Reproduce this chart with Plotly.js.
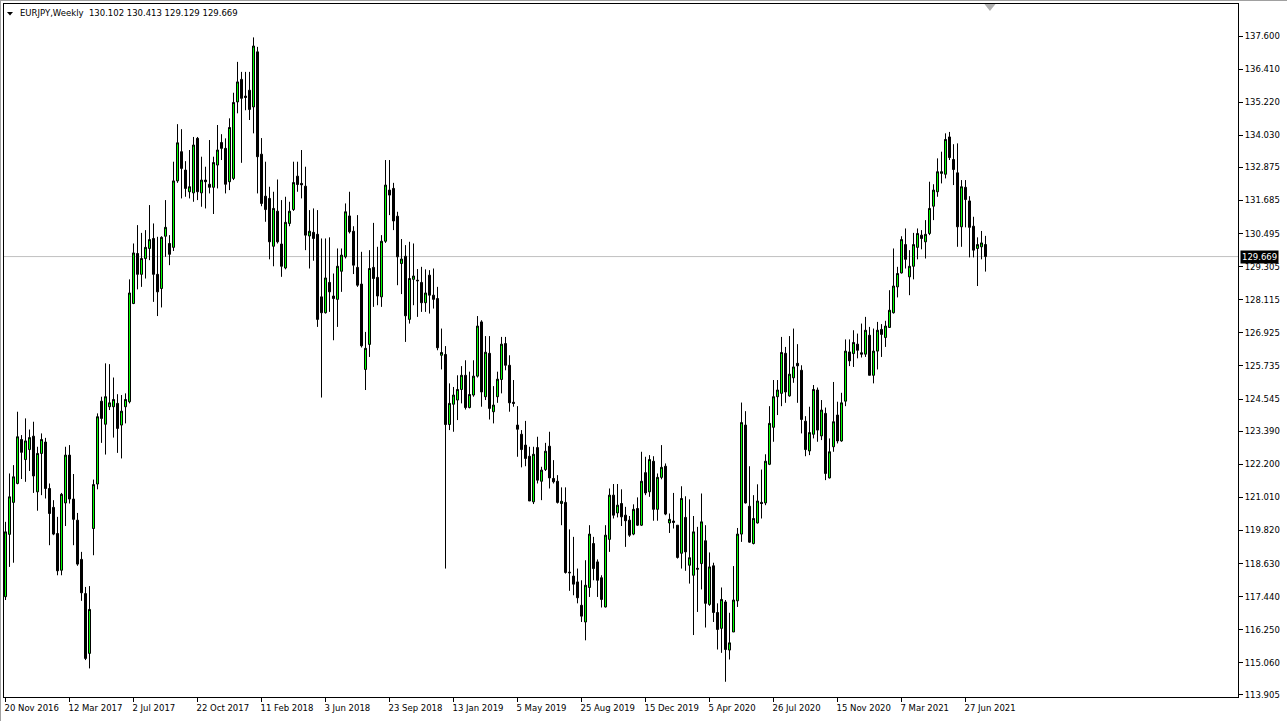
<!DOCTYPE html>
<html>
<head>
<meta charset="utf-8">
<script src="https://cdn.plot.ly/plotly-3.0.1.min.js"></script>
<style>
  html, body { margin: 0; padding: 0; background: #ffffff; }
  #chart { width: 1287px; height: 721px; }
</style>
</head>
<body>
<div id="chart"></div>
<script>
// EURJPY weekly, 20 Nov 2016 .. 1 Aug 2021
const open = [117.44,119.68,120.83,121.51,123.09,122.37,122.73,123.21,121.21,122.59,123.00,121.33,120.65,119.71,118.39,120.81,122.53,120.95,120.19,118.78,117.55,115.40,119.89,121.49,124.47,123.64,124.27,124.27,124.39,123.61,124.27,124.45,127.98,129.78,129.03,129.60,129.96,130.32,129.03,128.52,130.40,130.14,130.00,132.39,133.44,132.78,132.00,131.96,133.92,131.96,132.42,132.27,132.16,132.96,133.77,133.56,132.36,132.48,135.23,136.04,135.44,135.65,135.05,137.03,133.35,131.84,131.76,130.04,131.30,130.12,129.26,130.86,131.36,132.56,132.30,132.20,130.41,130.54,130.47,128.22,127.65,128.74,128.25,128.13,129.14,129.66,131.13,130.58,129.28,128.68,125.61,126.51,129.28,128.92,128.22,130.22,132.06,132.12,131.12,129.42,129.68,127.41,128.85,128.82,128.74,128.01,129.00,128.28,128.16,126.12,126.15,123.63,124.36,124.51,124.89,125.40,124.24,124.69,125.37,127.32,124.63,126.19,124.09,124.63,125.25,126.54,125.76,124.43,123.61,123.28,122.89,122.49,120.85,122.80,121.59,122.01,122.85,121.69,121.59,120.79,120.83,118.32,118.18,117.97,117.13,116.53,117.77,119.35,118.69,118.12,117.07,119.50,121.09,120.45,120.79,120.37,120.19,119.69,120.61,120.01,121.90,121.21,122.31,120.58,121.73,122.13,120.09,120.16,120.01,119.00,120.29,118.57,118.21,118.46,118.63,119.45,117.16,118.55,116.87,116.30,117.25,115.52,116.17,117.29,119.69,123.61,120.69,119.35,120.09,120.83,120.81,122.20,123.53,124.63,124.75,126.19,124.66,125.31,125.83,125.58,123.75,122.68,123.28,124.87,123.22,124.03,121.71,122.83,123.97,123.04,124.47,126.24,126.18,126.52,126.21,126.16,126.84,125.40,126.27,127.05,126.76,127.12,127.65,128.58,129.08,130.10,128.94,129.32,130.00,130.44,130.20,130.50,131.48,132.00,132.66,132.63,133.97,133.16,132.68,130.74,132.16,131.67,130.76,129.96,130.02,130.102];
const high = [120.13,121.87,122.17,124.09,123.25,123.85,123.45,123.73,122.83,123.31,123.15,121.51,120.91,120.31,121.17,122.83,122.89,121.85,120.45,119.05,117.79,117.82,121.65,124.03,124.63,125.83,125.80,125.32,124.72,124.69,124.75,128.85,130.14,130.80,130.52,130.62,131.52,130.86,130.38,130.40,131.70,130.44,133.08,134.43,134.25,133.10,133.50,133.97,133.97,133.26,132.90,133.86,133.26,134.40,134.07,133.92,134.64,135.56,136.67,136.31,136.31,136.31,137.55,137.21,133.93,133.08,132.18,132.00,132.44,131.70,131.82,131.64,133.08,133.08,133.50,132.90,131.34,131.40,131.34,130.32,130.32,130.36,129.06,129.96,129.96,131.58,132.00,130.76,131.16,129.84,126.96,129.90,130.88,130.02,130.44,133.14,133.14,132.32,131.28,130.30,130.08,130.20,130.14,129.22,129.30,129.21,129.18,129.24,128.58,127.08,126.45,125.11,124.98,125.40,125.73,125.94,125.53,125.94,127.53,127.38,126.81,126.81,125.01,125.53,126.78,126.78,126.12,125.23,124.29,123.43,123.76,122.83,122.83,123.19,122.11,122.97,123.37,122.35,121.81,121.37,121.37,119.86,119.59,118.45,118.03,118.75,120.01,119.59,118.78,118.21,120.01,121.33,121.49,121.49,121.30,120.67,120.34,120.76,121.01,122.65,122.47,122.53,122.49,121.87,122.89,122.23,120.43,121.17,120.01,121.41,121.05,120.94,120.34,119.95,121.15,120.01,119.03,118.66,117.20,117.77,117.32,116.86,118.54,119.91,124.42,124.11,122.13,121.09,121.48,122.01,122.56,124.29,125.23,125.23,126.78,126.42,126.81,127.08,126.52,125.76,123.93,124.27,125.05,124.96,124.51,124.24,123.13,125.16,124.45,124.77,126.69,126.69,127.02,126.90,127.26,127.50,127.14,127.08,127.32,127.24,127.36,128.46,129.96,129.30,130.40,130.68,129.90,130.52,130.68,130.62,130.98,132.36,132.27,133.20,133.44,134.10,134.15,133.71,133.74,132.42,132.42,131.84,131.10,130.36,130.59,130.413];
const low = [117.32,118.51,118.66,121.48,121.67,121.57,121.96,121.17,120.53,121.09,120.97,119.29,119.65,118.21,118.21,119.98,120.79,119.29,118.55,117.29,115.16,114.86,118.93,121.30,122.97,122.55,124.15,123.16,122.61,122.41,123.67,124.39,127.96,128.49,128.58,128.88,129.54,128.04,127.53,127.84,129.66,129.36,129.87,132.32,131.76,131.82,131.76,131.64,131.70,131.46,131.40,131.94,131.20,132.12,133.14,131.94,132.06,132.42,134.82,133.04,134.93,134.58,134.10,131.94,131.48,130.92,129.57,129.32,130.14,128.94,129.21,130.76,131.31,132.00,131.76,129.90,129.24,129.52,127.14,124.60,127.62,127.68,126.66,127.14,128.40,129.60,130.50,129.04,128.58,126.40,124.87,126.06,127.86,127.92,127.86,130.16,131.16,130.62,128.64,128.32,126.60,127.26,127.92,127.50,127.68,127.68,127.62,127.80,126.30,125.61,118.45,123.43,123.37,123.79,124.39,124.17,124.21,124.63,125.32,124.27,124.51,123.81,123.67,124.41,124.75,125.58,124.09,124.27,122.47,122.09,122.13,120.88,120.77,121.51,120.91,121.96,121.33,121.51,120.79,120.01,118.27,117.65,117.49,117.20,116.53,115.87,117.43,118.03,117.43,117.05,117.05,119.05,120.25,120.29,119.98,119.23,119.59,119.65,119.98,119.98,121.09,121.03,120.17,120.17,121.66,120.37,119.73,119.89,118.81,118.45,118.37,117.91,116.06,116.89,117.70,116.33,117.11,116.53,115.54,115.42,114.38,115.18,116.17,117.07,119.41,120.79,119.38,119.32,120.07,120.25,120.73,122.17,123.01,123.97,124.29,124.41,124.63,125.13,124.41,123.31,122.49,122.53,123.13,123.01,123.07,121.63,121.69,122.65,122.95,123.01,124.29,125.73,125.70,126.01,126.04,126.06,125.40,125.11,125.61,126.06,126.42,127.11,127.62,128.20,129.06,129.24,128.28,128.85,129.57,129.93,129.60,130.44,130.98,131.82,132.30,132.48,133.14,132.24,130.02,130.02,130.72,129.64,129.64,128.61,129.57,129.129];
const close = [119.77,121.03,121.75,123.19,122.63,123.04,123.16,121.78,122.59,123.09,121.33,120.43,119.69,118.37,121.12,122.53,120.95,120.22,118.61,117.58,115.22,116.98,121.47,123.91,123.85,124.63,124.41,124.53,123.49,124.11,124.53,128.36,129.80,129.03,129.60,130.00,130.28,129.03,128.40,130.36,130.72,129.75,132.39,133.76,132.84,132.12,132.18,133.68,132.00,132.42,132.36,132.16,133.05,133.50,133.56,132.27,134.31,135.21,135.95,135.36,135.39,134.96,137.24,133.26,131.58,131.36,130.20,131.40,130.20,129.32,130.90,131.30,132.33,132.26,132.25,130.44,130.58,130.32,127.41,127.65,128.90,128.40,128.16,129.32,129.72,131.28,130.56,129.36,128.64,126.46,126.37,129.24,128.88,128.25,130.22,132.24,131.88,130.95,129.66,129.58,127.54,128.88,128.97,128.80,128.01,128.36,128.28,128.13,126.39,126.22,123.63,124.39,124.69,124.89,125.40,124.24,124.71,125.37,127.17,124.80,126.23,124.21,124.33,125.26,126.52,125.76,124.41,124.39,123.46,122.73,122.41,120.88,122.56,121.63,121.99,122.67,121.71,121.57,120.83,120.87,118.31,118.30,117.89,117.40,116.74,117.85,119.69,118.45,118.03,117.34,119.65,121.09,120.37,120.73,120.31,120.17,119.65,120.58,120.01,121.59,121.17,122.37,120.58,121.73,122.09,120.41,120.22,120.11,118.85,120.97,119.05,118.84,119.77,118.43,120.13,117.20,118.51,116.87,116.26,117.34,115.54,115.78,117.32,119.69,123.70,120.81,119.40,120.25,120.88,120.79,122.31,123.67,124.63,124.87,126.22,124.80,125.44,125.70,125.74,123.81,122.73,123.34,124.89,123.43,124.15,121.87,122.65,123.73,123.04,124.41,126.27,125.92,126.58,126.30,126.16,127.02,125.40,126.27,127.02,126.87,127.17,127.74,128.61,129.06,130.28,129.57,129.32,130.10,130.50,130.32,130.47,131.40,132.06,132.72,132.72,133.88,133.23,132.80,130.74,132.18,131.72,130.72,129.90,130.10,130.16,129.669];

const xTickLabels = ["20 Nov 2016","12 Mar 2017","2 Jul 2017","22 Oct 2017","11 Feb 2018","3 Jun 2018","23 Sep 2018","13 Jan 2019","5 May 2019","25 Aug 2019","15 Dec 2019","5 Apr 2020","26 Jul 2020","15 Nov 2020","7 Mar 2021","27 Jun 2021"];
const yTickValues = [137.600,136.410,135.220,134.030,132.875,131.685,130.495,129.305,128.115,126.925,125.735,124.545,123.390,122.200,121.010,119.820,118.630,117.440,116.250,115.060,113.905];
const lastPrice = 129.669;
const headerText = "EURJPY,Weekly  130.102 130.413 129.129 129.669";

const x = open.map((_, i) => i);
const xTickVals = xTickLabels.map((_, i) => i * 16);

const FONT = "DejaVu Sans, Tahoma, sans-serif";
const FS = 8.5;

const trace = {
  type: 'candlestick',
  x: x, open: open, high: high, low: low, close: close,
  increasing: { line: { color: '#000000', width: 1 }, fillcolor: '#00ff00' },
  decreasing: { line: { color: '#000000', width: 1 }, fillcolor: '#000000' },
  whiskerwidth: 0,
  hoverinfo: 'skip',
  showlegend: false
};

const layout = {
  width: 1287, height: 721,
  margin: { l: 4, r: 49, t: 4, b: 24, pad: 0 },
  paper_bgcolor: '#ffffff', plot_bgcolor: '#ffffff',
  showlegend: false,
  boxgap: 0.5, boxgroupgap: 0,
  font: { family: FONT, size: FS, color: '#000000' },
  xaxis: {
    type: 'linear',
    range: [-0.375, 308.125],
    rangeslider: { visible: false },
    showgrid: false, zeroline: false,
    showline: true, mirror: true, linecolor: '#000000', linewidth: 1,
    tickmode: 'array', tickvals: xTickVals, ticktext: xTickLabels,
    ticks: 'outside', ticklen: 4, tickcolor: '#000000', tickwidth: 1,
    tickangle: 0,
    ticklabelposition: 'outside right',
    ticklabelstandoff: 3,
    ticklabelshift: -2,
    tickfont: { family: FONT, size: FS, color: '#000000' },
    fixedrange: true
  },
  yaxis: {
    side: 'right',
    range: [113.832, 138.751],
    showgrid: false, zeroline: false,
    showline: true, mirror: true, linecolor: '#000000', linewidth: 1,
    tickmode: 'array', tickvals: yTickValues,
    ticktext: yTickValues.map(v => v.toFixed(3)),
    ticks: 'outside', ticklen: 4, tickcolor: '#000000', tickwidth: 1,
    tickfont: { family: FONT, size: FS, color: '#000000' },
    fixedrange: true
  },
  shapes: [
    { type: 'line', xref: 'paper', x0: 0, x1: 1, yref: 'y', y0: lastPrice, y1: lastPrice,
      line: { color: '#c0c0c0', width: 1 }, layer: 'below' },
    { type: 'path', xref: 'paper', yref: 'paper',
      path: 'M 0.7945 1 L 0.8035 1 L 0.799 0.99 Z',
      fillcolor: '#b0b0b0', line: { width: 0 } },
    { type: 'path', xref: 'paper', yref: 'paper',
      path: 'M 0.0024 0.9885 L 0.0073 0.9885 L 0.00485 0.9835 Z',
      fillcolor: '#000000', line: { width: 0 } },
    { type: 'line', xref: 'paper', yref: 'paper', x0: -0.00284, x1: -0.00284, y0: -0.04, y1: 1.006,
      line: { color: '#a0a0a0', width: 1 } },
    { type: 'line', xref: 'paper', yref: 'paper', x0: -0.00284, x1: 1.04, y0: 1.00505, y1: 1.00505,
      line: { color: '#a0a0a0', width: 1 } }
  ],
  annotations: [
    { xref: 'paper', yref: 'paper', x: 0, y: 1, xanchor: 'left', yanchor: 'top',
      xshift: 14, yshift: -2, text: headerText, showarrow: false,
      font: { family: FONT, size: FS, color: '#000000' } },
    { xref: 'paper', yref: 'y', x: 1, y: lastPrice, xanchor: 'left', yanchor: 'middle',
      xshift: 2, text: lastPrice.toFixed(3), showarrow: false,
      bgcolor: '#000000', borderpad: 1,
      font: { family: FONT, size: FS, color: '#ffffff' } }
  ]
};

Plotly.newPlot('chart', [trace], layout, { displayModeBar: false, staticPlot: true });
</script>
</body>
</html>
